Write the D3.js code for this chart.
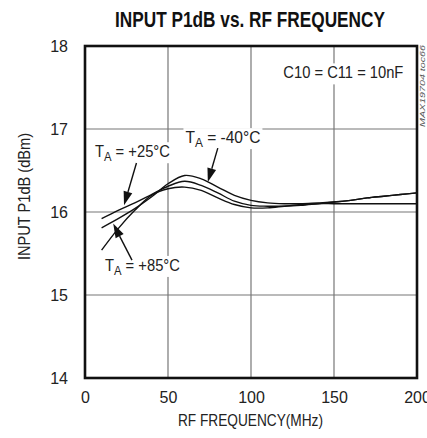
<!DOCTYPE html>
<html>
<head>
<meta charset="utf-8">
<script src="https://cdn.jsdelivr.net/npm/d3@7"></script>
<style>
  body { margin: 0; background: #fff; }
  svg { display: block; }
  text { font-family: "Liberation Sans", Arial, sans-serif; fill: #222; }
</style>
</head>
<body>
<div id="chart"></div>
<script>
// frequency points (MHz)
var freq = [10, 20, 30, 40, 50, 60, 70, 80, 90, 100, 110, 120, 130, 140, 150, 160, 170, 180, 190, 200];

// input P1dB (dBm) per temperature
var tMinus40 = [15.81, 15.92, 16.04, 16.18, 16.34, 16.44, 16.40, 16.30, 16.20, 16.14, 16.11, 16.10, 16.10, 16.11, 16.12, 16.14, 16.17, 16.19, 16.21, 16.23];
var tPlus25  = [15.92, 16.02, 16.11, 16.21, 16.31, 16.37, 16.32, 16.23, 16.13, 16.08, 16.07, 16.07, 16.08, 16.10, 16.12, 16.14, 16.17, 16.19, 16.21, 16.23];
var tPlus85  = [15.54, 15.80, 16.02, 16.20, 16.28, 16.30, 16.26, 16.17, 16.09, 16.05, 16.05, 16.07, 16.09, 16.10, 16.10, 16.10, 16.10, 16.10, 16.10, 16.10];

var xTicks = [0, 50, 100, 150, 200];
var yTicks = [14, 15, 16, 17, 18];

var width = 427,
	height = 438,
	margin = {top: 46, right: 10, bottom: 60, left: 85};

var plotW = width - margin.left - margin.right,
	plotH = height - margin.top - margin.bottom;

var x = d3.scaleLinear().domain([0, 200]).range([0, plotW]);
var y = d3.scaleLinear().domain([14, 18]).range([plotH, 0]);

var svg = d3.select("#chart")
	.append("svg")
	.attr("width", width)
	.attr("height", height);

// title
svg.append("text")
	.attr("x", 115)
	.attr("y", 27)
	.attr("textLength", 270)
	.attr("lengthAdjust", "spacingAndGlyphs")
	.style("font-size", "22px")
	.style("font-weight", "bold")
	.style("fill", "#111")
	.text("INPUT P1dB vs. RF FREQUENCY");

var g = svg.append("g")
	.attr("transform", "translate(" + margin.left + "," + margin.top + ")");

// grid
g.selectAll(".vgrid")
	.data(xTicks)
	.enter().append("line")
	.attr("x1", function(d) { return x(d); })
	.attr("x2", function(d) { return x(d); })
	.attr("y1", 0)
	.attr("y2", plotH)
	.style("stroke", "#777")
	.style("stroke-width", 1.2);

g.selectAll(".hgrid")
	.data(yTicks)
	.enter().append("line")
	.attr("x1", 0)
	.attr("x2", plotW)
	.attr("y1", function(d) { return y(d); })
	.attr("y2", function(d) { return y(d); })
	.style("stroke", "#777")
	.style("stroke-width", 1.2);

// tick labels via d3 axes
var xAxis = g.append("g")
	.attr("transform", "translate(0," + plotH + ")")
	.call(d3.axisBottom(x).tickValues(xTicks).tickFormat(d3.format("d")).tickSize(0).tickPadding(14));
var yAxis = g.append("g")
	.call(d3.axisLeft(y).tickValues(yTicks).tickFormat(d3.format("d")).tickSize(0).tickPadding(17));
[xAxis, yAxis].forEach(function(a) {
	a.select(".domain").remove();
	a.selectAll("text")
		.style("font-size", "16px")
		.style("fill", "#222")
		.style("font-family", "'Liberation Sans', Arial, sans-serif");
});

// curves
var series = [tMinus40, tPlus25, tPlus85];
var line = d3.line()
	.x(function(d, i) { return x(freq[i]); })
	.y(function(d) { return y(d); })
	.curve(d3.curveCatmullRom);

g.selectAll(".curve")
	.data(series)
	.enter().append("path")
	.attr("d", line)
	.style("fill", "none")
	.style("stroke", "#111")
	.style("stroke-width", 1.4);

// frame
g.append("rect")
	.attr("width", plotW)
	.attr("height", plotH)
	.style("fill", "none")
	.style("stroke", "#111")
	.style("stroke-width", 2.6);

// labels with white backing
function label(tx, ty, main, sub, rest, bw) {
	g.append("rect")
		.attr("x", tx - 2)
		.attr("y", ty - 15)
		.attr("width", bw + 4)
		.attr("height", 21)
		.style("fill", "#fff");
	var t = g.append("text")
		.attr("x", tx)
		.attr("y", ty)
		.attr("textLength", bw)
		.attr("lengthAdjust", "spacingAndGlyphs")
		.style("font-size", "17px");
	t.append("tspan").text(main);
	if (sub) {
		t.append("tspan").attr("dy", 4).style("font-size", "13px").text(sub);
		t.append("tspan").attr("dy", -4).text(rest);
	}
}

label(x(6), y(16.66), "T", "A", " = +25°C", 75);
label(x(60.5), y(16.83), "T", "A", " = -40°C", 75);
label(x(12), y(15.29), "T", "A", " = +85°C", 75);
label(x(119.5), y(17.61), "C10 = C11 = 10nF", null, null, 120);

// arrows
function arrow(f0, v0, f1, v1) {
	var x0 = x(f0), y0 = y(v0), x1 = x(f1), y1 = y(v1);
	var ang = Math.atan2(y1 - y0, x1 - x0);
	var len = 14, wid = 4.5;
	var bx = x1 - len * Math.cos(ang), by = y1 - len * Math.sin(ang);
	g.append("line")
		.attr("x1", x0).attr("y1", y0)
		.attr("x2", bx).attr("y2", by)
		.style("stroke", "#111")
		.style("stroke-width", 1.4);
	g.append("path")
		.attr("d", "M" + x1 + "," + y1 +
			"L" + (bx + wid * Math.sin(ang)) + "," + (by - wid * Math.cos(ang)) +
			"L" + (bx - wid * Math.sin(ang)) + "," + (by + wid * Math.cos(ang)) + "Z")
		.style("fill", "#111");
}

arrow(31, 16.59, 23.5, 16.08);
arrow(80, 16.77, 74, 16.36);
arrow(28.3, 15.42, 17, 15.86);

// axis titles
svg.append("text")
	.attr("x", 178)
	.attr("y", 426)
	.attr("textLength", 145)
	.attr("lengthAdjust", "spacingAndGlyphs")
	.style("font-size", "17px")
	.text("RF FREQUENCY(MHz)");

svg.append("text")
	.attr("transform", "translate(30,260) rotate(-90)")
	.attr("textLength", 127)
	.attr("lengthAdjust", "spacingAndGlyphs")
	.style("font-size", "17px")
	.text("INPUT P1dB (dBm)");

svg.append("text")
	.attr("transform", "translate(425,127) rotate(-90)")
	.attr("textLength", 82)
	.attr("lengthAdjust", "spacingAndGlyphs")
	.style("font-size", "8px")
	.style("font-style", "italic")
	.style("fill", "#555")
	.text("MAX19704 toc66");
</script>
</body>
</html>
